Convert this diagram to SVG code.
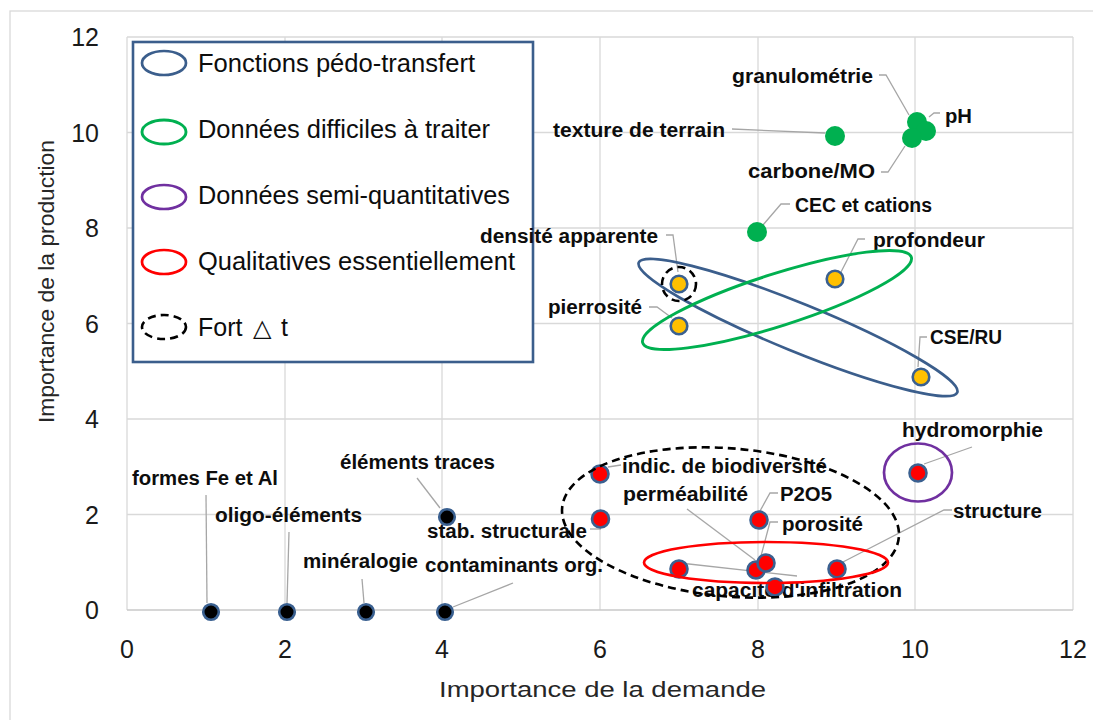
<svg xmlns="http://www.w3.org/2000/svg" width="1093" height="720" viewBox="0 0 1093 720">
<defs>
<style>
.grid{stroke:#d9d9d9;stroke-width:1.3;fill:none}
.tick{font-family:"Liberation Sans",Arial,sans-serif;font-size:25px;fill:#1a1a1a}
.title{font-family:"Liberation Sans",Arial,sans-serif;font-size:22px;fill:#262626}
.lab{font-family:"Liberation Sans",Arial,sans-serif;font-size:20px;font-weight:bold;fill:#0d0d0d}
.leg{font-family:"Liberation Sans",Arial,sans-serif;font-size:25px;fill:#0d0d0d}
.lead{stroke:#a6a6a6;stroke-width:1.3;fill:none}
.pb{fill:#000;stroke:#3a6090;stroke-width:2.6}
.pg{fill:#00b050}
.py{fill:#ffc000;stroke:#3a6090;stroke-width:2.6}
.pr{fill:#ff0000;stroke:#3a6090;stroke-width:2.6}
.eb{fill:none;stroke:#3b5e8c;stroke-width:2.7}
.eg{fill:none;stroke:#00b050;stroke-width:2.9}
.ep{fill:none;stroke:#7030a0;stroke-width:2.7}
.er{fill:none;stroke:#ff0000;stroke-width:2.7}
.ed{fill:none;stroke:#000;stroke-width:2.6;stroke-dasharray:8 5}
</style>
</defs>
<rect x="0" y="0" width="1093" height="720" fill="#ffffff"/>
<rect x="10" y="11" width="1100" height="720" fill="none" stroke="#d9d9d9" stroke-width="1.3"/>
<g id="grid">
<line class="grid" x1="127" y1="37" x2="1073" y2="37"/>
<line class="grid" x1="127" y1="132.5" x2="1073" y2="132.5"/>
<line class="grid" x1="127" y1="228" x2="1073" y2="228"/>
<line class="grid" x1="127" y1="323.5" x2="1073" y2="323.5"/>
<line class="grid" x1="127" y1="419" x2="1073" y2="419"/>
<line class="grid" x1="127" y1="514.5" x2="1073" y2="514.5"/>
<line class="grid" x1="127" y1="37" x2="127" y2="610"/>
<line class="grid" x1="285" y1="37" x2="285" y2="610"/>
<line class="grid" x1="442" y1="37" x2="442" y2="610"/>
<line class="grid" x1="600" y1="37" x2="600" y2="610"/>
<line class="grid" x1="758" y1="37" x2="758" y2="610"/>
<line class="grid" x1="915" y1="37" x2="915" y2="610"/>
<line class="grid" x1="1073" y1="37" x2="1073" y2="610"/>
<line x1="127" y1="610" x2="1073" y2="610" stroke="#c8c8c8" stroke-width="1.5"/>
</g>
<g id="axes">
<text class="tick" x="99" y="46" text-anchor="end">12</text>
<text class="tick" x="99" y="141.5" text-anchor="end">10</text>
<text class="tick" x="99" y="237" text-anchor="end">8</text>
<text class="tick" x="99" y="332.5" text-anchor="end">6</text>
<text class="tick" x="99" y="428" text-anchor="end">4</text>
<text class="tick" x="99" y="523.5" text-anchor="end">2</text>
<text class="tick" x="99" y="619" text-anchor="end">0</text>
<text class="tick" x="127" y="658" text-anchor="middle">0</text>
<text class="tick" x="285" y="658" text-anchor="middle">2</text>
<text class="tick" x="442" y="658" text-anchor="middle">4</text>
<text class="tick" x="600" y="658" text-anchor="middle">6</text>
<text class="tick" x="758" y="658" text-anchor="middle">8</text>
<text class="tick" x="915" y="658" text-anchor="middle">10</text>
<text class="tick" x="1073" y="658" text-anchor="middle">12</text>
<text class="title" x="439" y="697" textLength="327" lengthAdjust="spacingAndGlyphs">Importance de la demande</text>
<text class="title" transform="translate(54,423) rotate(-90)" x="0" y="0" font-size="24" textLength="283" lengthAdjust="spacingAndGlyphs">Importance de la production</text>
</g>
<g id="legend">
<rect x="133" y="42" width="400" height="320" fill="#ffffff" stroke="#3b5e8c" stroke-width="2.6"/>
<ellipse class="eb" cx="164" cy="63" rx="22" ry="12"/>
<ellipse class="eg" cx="164" cy="132" rx="22" ry="12"/>
<ellipse class="ep" cx="164" cy="197" rx="22" ry="12"/>
<ellipse class="er" cx="164" cy="262" rx="22" ry="12"/>
<ellipse class="ed" cx="164" cy="327" rx="22" ry="12" stroke-dasharray="6 4"/>
<text class="leg" x="198" y="72" textLength="277" lengthAdjust="spacingAndGlyphs">Fonctions pédo-transfert</text>
<text class="leg" x="198" y="138" textLength="292" lengthAdjust="spacingAndGlyphs">Données difficiles à traiter</text>
<text class="leg" x="198" y="204" textLength="312" lengthAdjust="spacingAndGlyphs">Données semi-quantitatives</text>
<text class="leg" x="198" y="270" textLength="317" lengthAdjust="spacingAndGlyphs">Qualitatives essentiellement</text>
<text class="leg" x="198" y="336"><tspan>Fort</tspan><tspan x="253" font-family="'DejaVu Sans',sans-serif" font-size="24">△</tspan><tspan x="281">t</tspan></text>
</g>
<g id="connectors">
<polyline class="lead" points="879,75 886,75 909,115"/>
<polyline class="lead" points="929,117 934,113 940,113"/>
<polyline class="lead" points="732,129 825,133"/>
<polyline class="lead" points="881,172 888,172 905,146"/>
<polyline class="lead" points="790,204 781,204 763,225"/>
<polyline class="lead" points="666,235 673,235 678,272"/>
<polyline class="lead" points="865,239 858,239 841,272"/>
<polyline class="lead" points="649,307 657,307 672,318"/>
<polyline class="lead" points="927,337 920,337 918,367"/>
<polyline class="lead" points="608,467 621,465"/>
<polyline class="lead" points="687,509 755,560"/>
<polyline class="lead" points="778,493 770,493 760,511"/>
<polyline class="lead" points="778,522 770,522 761,556"/>
<polyline class="lead" points="952,510 944,510 841,563"/>
<polyline class="lead" points="972,447 924,464"/>
<polyline class="lead" points="680,563 797,576"/>
<polyline class="lead" points="590,529 601,529"/>
<polyline class="lead" points="513,583 453,607"/>
<polyline class="lead" points="417,478 440,508"/>
<polyline class="lead" points="206,495 207,603"/>
<polyline class="lead" points="289,532 287,603"/>
<polyline class="lead" points="362,579 364,603"/>
</g>
<g id="labels">
<text class="lab" x="732" y="83" textLength="141" lengthAdjust="spacingAndGlyphs">granulométrie</text>
<text class="lab" x="945" y="123" textLength="27" lengthAdjust="spacingAndGlyphs">pH</text>
<text class="lab" x="553" y="137" textLength="172" lengthAdjust="spacingAndGlyphs">texture de terrain</text>
<text class="lab" x="748" y="178" textLength="127" lengthAdjust="spacingAndGlyphs">carbone/MO</text>
<text class="lab" x="795" y="212" textLength="137" lengthAdjust="spacingAndGlyphs">CEC et cations</text>
<text class="lab" x="480" y="243" textLength="178" lengthAdjust="spacingAndGlyphs">densité apparente</text>
<text class="lab" x="873" y="247" textLength="112" lengthAdjust="spacingAndGlyphs">profondeur</text>
<text class="lab" x="548" y="314" textLength="94" lengthAdjust="spacingAndGlyphs">pierrosité</text>
<text class="lab" x="930" y="344" textLength="72" lengthAdjust="spacingAndGlyphs">CSE/RU</text>
<text class="lab" x="622" y="473" textLength="205" lengthAdjust="spacingAndGlyphs">indic. de biodiversité</text>
<text class="lab" x="623" y="501" textLength="125" lengthAdjust="spacingAndGlyphs">perméabilité</text>
<text class="lab" x="780" y="501" textLength="52" lengthAdjust="spacingAndGlyphs">P2O5</text>
<text class="lab" x="782" y="531" textLength="81" lengthAdjust="spacingAndGlyphs">porosité</text>
<text class="lab" x="953" y="518" textLength="89" lengthAdjust="spacingAndGlyphs">structure</text>
<text class="lab" x="902" y="437" textLength="141" lengthAdjust="spacingAndGlyphs">hydromorphie</text>
<text class="lab" x="692" y="597" textLength="210" lengthAdjust="spacingAndGlyphs">capacité d'infiltration</text>
<text class="lab" x="427" y="538" textLength="160" lengthAdjust="spacingAndGlyphs">stab. structurale</text>
<text class="lab" x="425" y="572" textLength="178" lengthAdjust="spacingAndGlyphs">contaminants org.</text>
<text class="lab" x="340" y="469" textLength="155" lengthAdjust="spacingAndGlyphs">éléments traces</text>
<text class="lab" x="132" y="485" textLength="146" lengthAdjust="spacingAndGlyphs">formes Fe et Al</text>
<text class="lab" x="215" y="522" textLength="147" lengthAdjust="spacingAndGlyphs">oligo-éléments</text>
<text class="lab" x="303" y="568" textLength="115" lengthAdjust="spacingAndGlyphs">minéralogie</text>
</g>
<g id="points">
<circle class="pb" cx="211" cy="612" r="7.8"/>
<circle class="pb" cx="287" cy="612" r="7.8"/>
<circle class="pb" cx="366" cy="612" r="7.8"/>
<circle class="pb" cx="445" cy="612" r="7.8"/>
<circle class="pb" cx="447" cy="517" r="7.8"/>
<circle class="pg" cx="835" cy="136" r="10"/>
<circle class="pg" cx="917" cy="122" r="10"/>
<circle class="pg" cx="926" cy="131" r="10"/>
<circle class="pg" cx="912" cy="138" r="10"/>
<circle class="pg" cx="757" cy="232" r="10"/>
<circle class="py" cx="679" cy="284" r="8.3"/>
<circle class="py" cx="679" cy="326" r="8.3"/>
<circle class="py" cx="835" cy="279" r="8.3"/>
<circle class="py" cx="921" cy="377" r="8.3"/>
<circle class="pr" cx="600" cy="474" r="8.5"/>
<circle class="pr" cx="600.5" cy="519" r="8.5"/>
<circle class="pr" cx="759" cy="520" r="8.5"/>
<circle class="pr" cx="679" cy="569" r="8.5"/>
<circle class="pr" cx="756" cy="570" r="8.5"/>
<circle class="pr" cx="766" cy="563" r="8.5"/>
<circle class="pr" cx="775" cy="587" r="8.5"/>
<circle class="pr" cx="837" cy="569" r="8.5"/>
<circle class="pr" cx="918" cy="473" r="8.5"/>
</g>
<g id="groups">
<ellipse class="eb" cx="798" cy="327.5" rx="172" ry="24" transform="rotate(22.2 798 327.5)"/>
<ellipse class="eg" cx="777" cy="300" rx="141" ry="26" transform="rotate(-17.7 777 300)"/>
<circle class="ed" cx="679" cy="284" r="17"/>
<ellipse class="ed" cx="730.5" cy="522.5" rx="169" ry="74" transform="rotate(5 730.5 522.5)"/>
<ellipse class="er" cx="766" cy="562.5" rx="122" ry="20.5"/>
<ellipse class="ep" cx="918" cy="472.5" rx="34" ry="29"/>
</g>
</svg>
